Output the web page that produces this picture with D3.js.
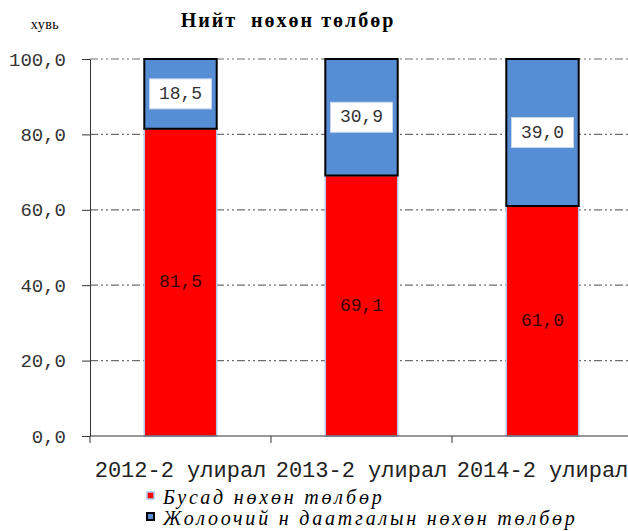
<!DOCTYPE html>
<html><head><meta charset="utf-8">
<script src="https://cdn.jsdelivr.net/npm/d3@7"></script>
<style>body{margin:0;background:#fff;}svg{display:block;}</style>
</head><body>
<svg id="c" width="628" height="531"></svg>
<script>
const categories = ["2012-2 улирал", "2013-2 улирал", "2014-2 улирал"];
const otherValues = [81.5, 69.1, 61.0];
const driverValues = [18.5, 30.9, 39.0];
const seriesNames = ["Бусад нөхөн төлбөр", "Жолоочий н даатгалын нөхөн төлбөр"];
const yTicks = [0, 20, 40, 60, 80, 100];
const title = "Нийт  нөхөн төлбөр";
const unitLabel = "хувь";

(function () {
const svg = d3.select("#c");
const pL = 90, pR = 633, pT = 59, pB = 436;
const x = d3.scaleBand().domain(categories).range([pL, pR]).paddingInner(0.6).paddingOuter(0.3);
const xc = d3.scaleBand().domain(categories).range([pL, pR]);
const y = d3.scaleLinear().domain([0, 100]).range([pB, pT]);
const fmt = v => v.toFixed(1).replace(".", ",");
const mono = "'Liberation Mono', 'DejaVu Sans Mono', monospace";

// gridlines
svg.append("g").selectAll("line").data(yTicks.filter(d => d > 0)).join("line")
  .attr("x1", pL).attr("x2", 628).attr("y1", d => y(d)).attr("y2", d => y(d))
  .attr("stroke", "#6e6e6e").attr("stroke-width", 1.2).attr("stroke-dasharray", "8,3,2,3,2,3");

// bars
const data = categories.map((c, i) => ({c, a: otherValues[i], b: driverValues[i]}));
const g = svg.append("g");
g.selectAll("rect.red").data(data).join("rect")
  .attr("x", d => x(d.c)).attr("width", x.bandwidth())
  .attr("y", d => y(d.a)).attr("height", d => y(0) - y(d.a))
  .attr("fill", "#ff0000").attr("stroke", "#b4c7e7").attr("stroke-width", 1.5);
g.selectAll("rect.blue").data(data).join("rect")
  .attr("x", d => x(d.c)).attr("width", x.bandwidth())
  .attr("y", d => y(d.a + d.b)).attr("height", d => y(d.a) - y(d.a + d.b))
  .attr("fill", "#558ed5").attr("stroke", "#000").attr("stroke-width", 2);

// labels for red
g.selectAll("text.rl").data(data).join("text")
  .attr("x", d => x(d.c) + x.bandwidth() / 2).attr("y", d => (y(0) + y(d.a)) / 2)
  .attr("text-anchor", "middle").attr("dominant-baseline", "central")
  .attr("font-family", mono).attr("font-size", 18).attr("fill", "#3a0000")
  .text(d => fmt(d.a));
// labels for blue with white box
const bl = g.selectAll("g.bl").data(data).join("g")
  .attr("transform", d => `translate(${x(d.c) + x.bandwidth() / 2},${(y(d.a) + y(d.a + d.b)) / 2})`);
bl.append("rect").attr("x", -31).attr("y", -15).attr("width", 62).attr("height", 30)
  .attr("fill", "#fff").attr("stroke", "#c9d6ea").attr("stroke-width", 1);
bl.append("text").attr("text-anchor", "middle").attr("dominant-baseline", "central")
  .attr("font-family", mono).attr("font-size", 18).attr("fill", "#333")
  .text(d => fmt(d.b));

// y axis
const yAxis = svg.append("g").attr("transform", `translate(${pL},0)`)
  .call(d3.axisLeft(y).tickValues(yTicks).tickFormat(fmt).tickSizeInner(8).tickSizeOuter(0).tickPadding(16));
yAxis.select(".domain").attr("stroke", "#333");
yAxis.selectAll(".tick line").attr("stroke", "#333");
yAxis.selectAll("text").attr("font-family", mono).attr("font-size", 19).attr("fill", "#333");

// x axis
const xAxis = svg.append("g").attr("transform", `translate(0,${pB})`)
  .call(d3.axisBottom(xc).tickSize(0).tickPadding(25));
xAxis.select(".domain").attr("stroke", "#333").attr("d", `M${pL},0H628`);
xAxis.selectAll("text").attr("font-family", mono).attr("font-size", 22).attr("fill", "#222");
svg.append("g").selectAll("line").data(categories).join("line")
  .attr("x1", d => xc(d)).attr("x2", d => xc(d)).attr("y1", pB).attr("y2", pB + 7)
  .attr("stroke", "#333");

// title and unit
svg.append("text").attr("x", 288).attr("y", 27).attr("text-anchor", "middle")
  .attr("font-family", "'Liberation Serif', serif").attr("font-weight", "bold").attr("font-size", 20)
  .attr("letter-spacing", 2).style("white-space", "pre").text(title);
svg.append("text").attr("x", 45).attr("y", 29).attr("text-anchor", "middle")
  .attr("font-family", "'Liberation Serif', serif").attr("font-size", 14).attr("letter-spacing", 0.5).text(unitLabel);

// legend
const colors = ["#ff0000", "#558ed5"];
const strokes = ["#b4c7e7", "#000"];
const lg = svg.append("g").selectAll("g").data(seriesNames).join("g")
  .attr("transform", (d, i) => `translate(147,${504 + i * 21})`);
lg.append("rect").attr("x", 0).attr("y", -12).attr("width", 7).attr("height", 7)
  .attr("fill", (d, i) => colors[i]).attr("stroke", (d, i) => strokes[i]).attr("stroke-width", (d, i) => i ? 2 : 1.5);
lg.append("text").attr("x", 16).attr("y", 0)
  .attr("font-family", "'Liberation Serif', serif").attr("font-style", "italic").attr("font-size", 20)
  .attr("letter-spacing", 2.8).style("white-space", "pre").text(d => d);
})();
</script>
</body></html>
